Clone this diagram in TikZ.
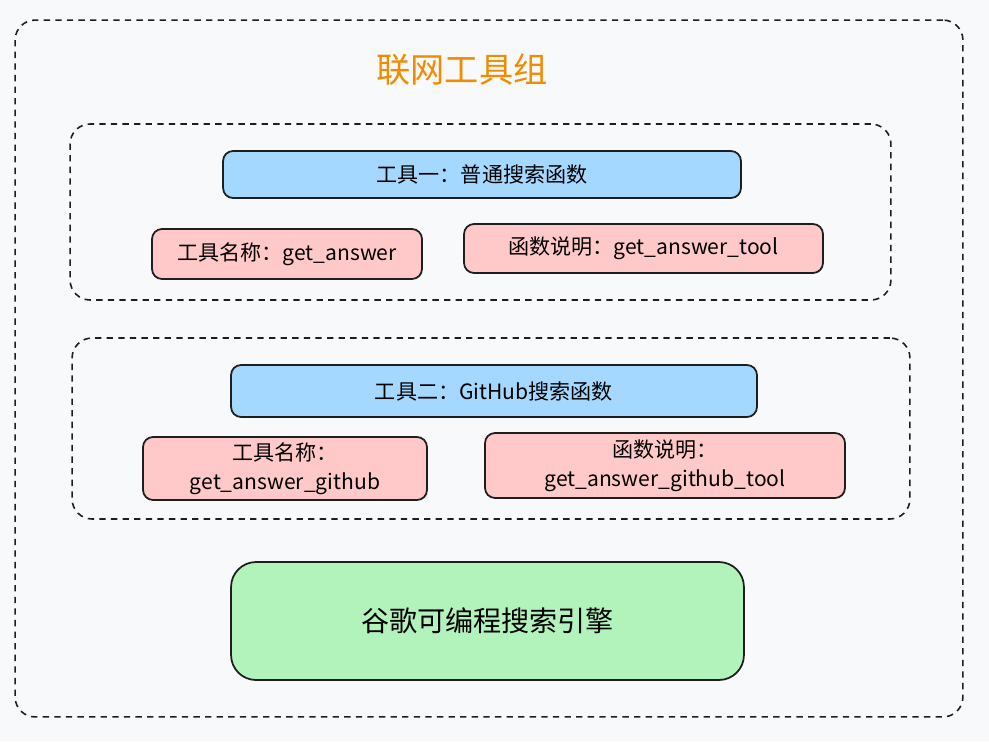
\documentclass[tikz,border=0pt]{standalone}
\usepackage{fontspec}
\setmainfont{Noto Sans CJK SC}
\usetikzlibrary{positioning}
\definecolor{paperbg}{HTML}{F8F9FB}
\definecolor{inkdark}{HTML}{1E1E1E}
\definecolor{toolblue}{HTML}{A5D8FF}
\definecolor{infopink}{HTML}{FFC9C9}
\definecolor{enginegreen}{HTML}{B2F2BB}
\definecolor{titleorange}{HTML}{F08C00}

\begin{document}
\begin{tikzpicture}[x=0.02cm,y=-0.02cm,every node/.style={align=center,inner sep=0pt},
  groupbox/.style={draw=inkdark,line width=0.9pt,dash pattern=on 3.6pt off 3pt,rounded corners=0.4cm},
  toolbox/.style={draw=inkdark,line width=1pt,rounded corners=0.2cm,fill=toolblue,font=\fontsize{12}{15}\selectfont},
  infobox/.style={draw=inkdark,line width=1pt,rounded corners=0.2cm,fill=infopink,font=\fontsize{12}{16.5}\selectfont}]
        \useasboundingbox[fill=paperbg] (0,0) rectangle (989,741);
        \node[groupbox,minimum width=18.96cm,minimum height=13.94cm] (outer) at (489,368.5) {};
        \node[text=titleorange,font=\fontsize{19.5}{22}\selectfont] (title) at (462,70) {联网工具组};
        % tool one
        \node[groupbox,minimum width=16.42cm,minimum height=3.52cm] (grpone) at (480.5,212) {};
        \node[toolbox,minimum width=10.36cm,minimum height=.94cm] (toolone) at (482,174.5) {工具一：普通搜索函数};
        \node[infobox,minimum width=5.4cm,minimum height=1.0cm] (nameone) at (287,254) {工具名称：get\_answer};
        \node[infobox,minimum width=7.18cm,minimum height=.98cm] (descone) at (643.5,248.5) {函数说明：get\_answer\_tool};
        % tool two
        \node[groupbox,minimum width=16.76cm,minimum height=3.62cm] (grptwo) at (491,428.5) {};
        \node[toolbox,minimum width=10.52cm,minimum height=1.04cm] (tooltwo) at (494,391) {工具二：GitHub搜索函数};
        \node[infobox,minimum width=5.68cm,minimum height=1.26cm] (nametwo) at (285,468.5) {工具名称：\\get\_answer\_github};
        \node[infobox,minimum width=7.2cm,minimum height=1.3cm] (desctwo) at (665,465.5) {函数说明：\\get\_answer\_github\_tool};
        % engine
        \node[draw=inkdark,line width=1pt,rounded corners=0.5cm,fill=enginegreen,minimum width=10.26cm,minimum height=2.36cm,font=\fontsize{16}{20}\selectfont] (engine) at (487.5,621) {谷歌可编程搜索引擎};
      \end{tikzpicture}
\end{document}
